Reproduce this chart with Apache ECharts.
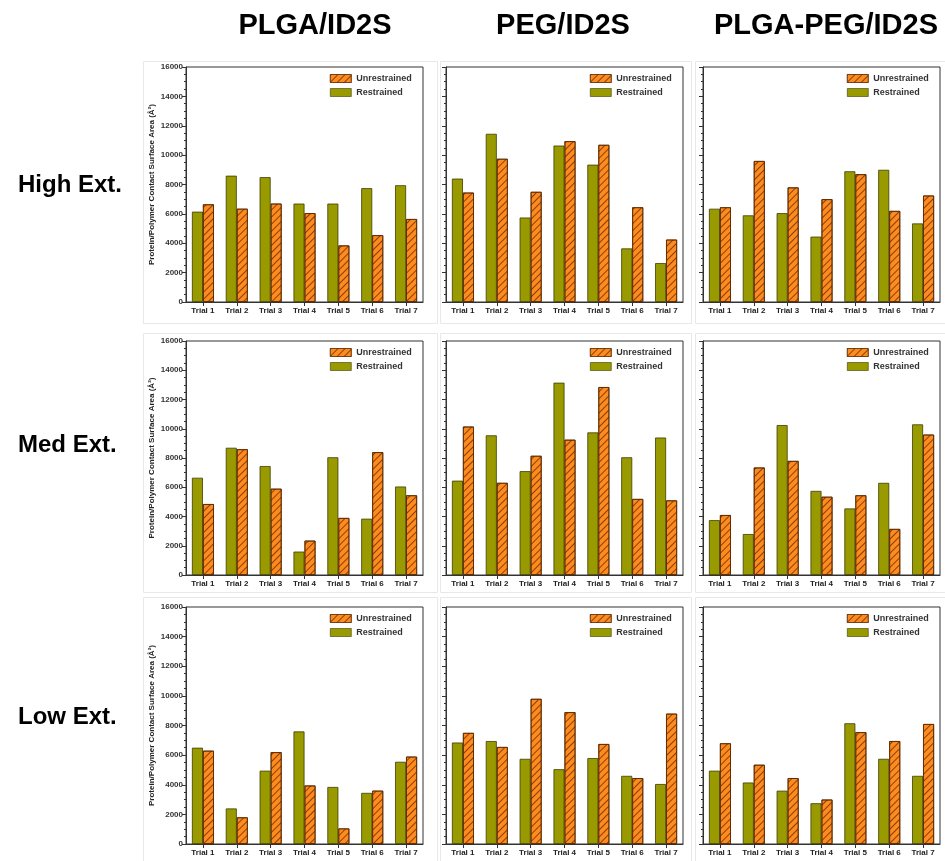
<!DOCTYPE html>
<html>
<head>
<meta charset="utf-8">
<script src="https://cdn.jsdelivr.net/npm/echarts@6/dist/echarts.min.js"></script>
<style>
html,body{margin:0;padding:0;background:#fff;}
#chart{width:945px;height:861px;}
</style>
</head>
<body>
<div id="chart"></div>
<script>
const categories = ['Trial 1','Trial 2','Trial 3','Trial 4','Trial 5','Trial 6','Trial 7'];
const columnTitles = ['PLGA/ID2S','PEG/ID2S','PLGA-PEG/ID2S'];
const rowTitles = ['High Ext.','Med Ext.','Low Ext.'];
const yTicks = [0,2000,4000,6000,8000,10000,12000,14000,16000];
const yAxisTitle = 'Protein/Polymer Contact Surface Area (Å²)';
const seriesNames = ['Restrained','Unrestrained'];

// High extension
const plgaHighRes      = [6150, 8600, 8500, 6700, 6700, 7750, 7950];
const plgaHighUnres    = [6650, 6350, 6700, 6050, 3850, 4550, 5650];
const pegHighRes       = [8400, 11450, 5750, 10650, 9350, 3650, 2650];
const pegHighUnres     = [7450, 9750, 7500, 10950, 10700, 6450, 4250];
const plgapegHighRes   = [6350, 5900, 6050, 4450, 8900, 9000, 5350];
const plgapegHighUnres = [6450, 9600, 7800, 7000, 8700, 6200, 7250];
// Medium extension
const plgaMedRes       = [6650, 8700, 7450, 1600, 8050, 3850, 6050];
const plgaMedUnres     = [4850, 8600, 5900, 2350, 3900, 8400, 5450];
const pegMedRes        = [6450, 9550, 7100, 13150, 9750, 8050, 9400];
const pegMedUnres      = [10150, 6300, 8150, 9250, 12850, 5200, 5100];
const plgapegMedRes    = [3750, 2800, 10250, 5750, 4550, 6300, 10300];
const plgapegMedUnres  = [4100, 7350, 7800, 5350, 5450, 3150, 9600];
// Low extension
const plgaLowRes       = [6500, 2400, 4950, 7600, 3850, 3450, 5550];
const plgaLowUnres     = [6300, 1800, 6200, 3950, 1050, 3600, 5900];
const pegLowRes        = [6850, 6950, 5750, 5050, 5800, 4600, 4050];
const pegLowUnres      = [7500, 6550, 9800, 8900, 6750, 4450, 8800];
const plgapegLowRes    = [4950, 4150, 3600, 2750, 8150, 5750, 4600];
const plgapegLowUnres  = [6800, 5350, 4450, 3000, 7550, 6950, 8100];

const panels = [
  [plgaHighRes, plgaHighUnres], [pegHighRes, pegHighUnres], [plgapegHighRes, plgapegHighUnres],
  [plgaMedRes, plgaMedUnres],   [pegMedRes, pegMedUnres],   [plgapegMedRes, plgapegMedUnres],
  [plgaLowRes, plgaLowUnres],   [pegLowRes, pegLowUnres],   [plgapegLowRes, plgapegLowUnres]
];

const FONT = '"Liberation Sans", Arial, Helvetica, sans-serif';
const colLeft = [186, 446, 703];
const colWidth = 237;
const rowTop = [67, 341, 607];
const rowHeight = [235, 234, 237];
const titleX = [315, 563, 826];
const rowLabelY = [185, 445, 717];

const grids = [], xAxes = [], yAxes = [], series = [], legends = [], graphics = [];

// faint outer frames
const frameX = [143, 440, 695];
const frameW = [294, 251, 250];
const frameY = [61, 333, 597];
const frameH = [262, 259, 264];
for (let r = 0; r < 3; r++) for (let c = 0; c < 3; c++) {
  graphics.push({type:'rect', silent:true, z:-1,
    shape:{x:frameX[c]+0.5, y:frameY[r]+0.5, width:frameW[c], height:frameH[r]},
    style:{fill:null, stroke:'#e8e8e8', lineWidth:1}});
}

const hatch = {symbol:'rect', symbolSize:1, color:'rgba(80,35,0,0.7)', backgroundColor:null,
  dashArrayX:[1,0], dashArrayY:[1,3.2], rotation: -Math.PI/4};

for (let r = 0; r < 3; r++) {
  for (let c = 0; c < 3; c++) {
    const i = r * 3 + c;
    grids.push({left: colLeft[c], top: rowTop[r], width: colWidth, height: rowHeight[r],
      show: true, borderColor: '#333', borderWidth: 1, containLabel: false});
    xAxes.push({type:'category', gridIndex:i, data: categories, boundaryGap:true,
      axisLine:{show:true, lineStyle:{color:'#333', width:1}},
      axisTick:{show:true, alignWithLabel:true, length:4, lineStyle:{color:'#333'}},
      axisLabel:{show:true, fontSize:8, fontWeight:'bold', color:'#222', fontFamily:FONT, margin:5, interval:0},
      splitLine:{show:false}});
    yAxes.push({type:'value', gridIndex:i, min: yTicks[0], max: yTicks[yTicks.length-1], interval: yTicks[1]-yTicks[0],
      name: c === 0 ? yAxisTitle : '', nameLocation:'middle', nameGap: 30,
      nameTextStyle:{fontSize:8, fontWeight:'bold', color:'#222', fontFamily:FONT},
      axisLine:{show:true, lineStyle:{color:'#333', width:1}},
      axisTick:{show:true, inside:false, length:4, lineStyle:{color:'#333'}},
      minorTick:{show:true, splitNumber:4, length:2, lineStyle:{color:'#333'}},
      axisLabel:{show: c === 0, fontSize:8, fontWeight:'bold', color:'#333', fontFamily:FONT, margin:3,
        formatter: v => String(v)},
      splitLine:{show:false}});
    series.push({type:'bar', name: seriesNames[0], xAxisIndex:i, yAxisIndex:i, data: panels[i][0],
      barWidth: 11, barGap:'0%',
      itemStyle:{color:'#999900', borderColor:'#3d3d00', borderWidth:0.8}});
    series.push({type:'bar', name: seriesNames[1], xAxisIndex:i, yAxisIndex:i, data: panels[i][1],
      barWidth: 11, barGap:'0%',
      itemStyle:{color:'#ff8a1e', borderColor:'#5a2800', borderWidth:0.8, decal: hatch}});
    legends.push({data:[seriesNames[1], seriesNames[0]], orient:'vertical',
      left: colLeft[c] + colWidth - 93, top: rowTop[r] + 7, padding:0,
      icon:'rect', itemWidth:21, itemHeight:8, itemGap:5, selectedMode:false,
      itemStyle:{borderWidth:0.6},
      textStyle:{fontSize:9, fontWeight:'bold', color:'#333', fontFamily:FONT}});
  }
}

for (let c = 0; c < 3; c++) {
  graphics.push({type:'text', x: titleX[c], y: 26, silent:true,
    style:{text: columnTitles[c], font:'bold 29px ' + FONT, fill:'#000', textAlign:'center', textVerticalAlign:'middle'}});
}
for (let r = 0; r < 3; r++) {
  graphics.push({type:'text', x: 18, y: rowLabelY[r], silent:true,
    style:{text: rowTitles[r], font:'bold 24px ' + FONT, fill:'#000', textAlign:'left', textVerticalAlign:'middle'}});
}

const chart = echarts.init(document.getElementById('chart'), null, {renderer:'canvas'});
chart.setOption({
  animation:false,
  backgroundColor:'#fff',
  textStyle:{fontFamily:FONT},
  grid: grids, xAxis: xAxes, yAxis: yAxes, series: series, legend: legends,
  graphic: graphics
});
</script>
</body>
</html>
